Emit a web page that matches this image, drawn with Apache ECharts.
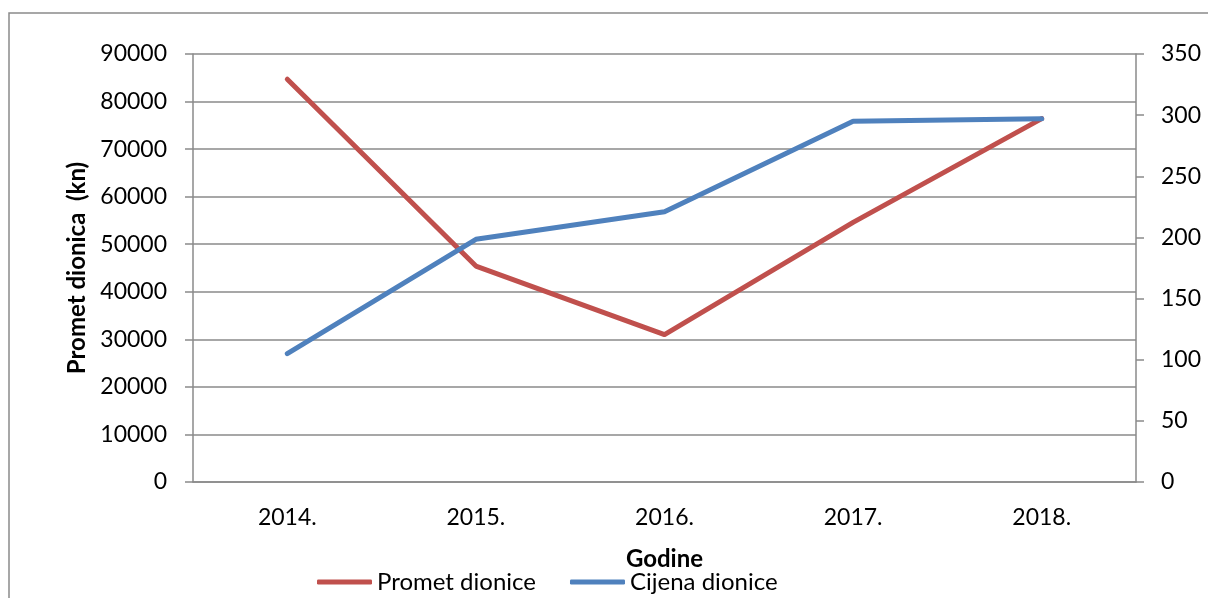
<!DOCTYPE html>
<html>
<head>
<meta charset="utf-8">
<script src="https://cdn.jsdelivr.net/npm/echarts@6/dist/echarts.min.js"></script>
<style>
html,body{margin:0;padding:0;background:#fff;}
#c{width:1208px;height:598px;}
</style>
</head>
<body>
<div id="c"></div>
<script>
const categories = ['2014.', '2015.', '2016.', '2017.', '2018.'];
const prometDionice = [84700, 45400, 31000, 54600, 76400];
const cijenaDionice = [105, 198.5, 221, 295, 297];
const seriesNames = ['Promet dionice', 'Cijena dionice'];
const leftAxisName = 'Promet dionica  (kn)';
const xAxisName = 'Godine';

const FONT = 'Lato';
const gridColor = '#8a8a8a';
const chart = echarts.init(document.getElementById('c'), null, {renderer: 'canvas'});
chart.setOption({
  backgroundColor: '#fff',
  animation: false,
  graphic: [{
    type: 'rect', silent: true,
    shape: {x: 9, y: 13, width: 1230, height: 640},
    style: {fill: 'none', stroke: '#8a8a8a', lineWidth: 1.5}
  }],
  grid: {left: 193, right: 72, top: 54, bottom: 116, containLabel: false},
  legend: {
    data: seriesNames,
    left: 312, top: 565,
    icon: 'roundRect',
    itemWidth: 55, itemHeight: 5, itemGap: 34,
    textStyle: {fontFamily: FONT, fontSize: 24, color: '#000'}
  },
  xAxis: {
    type: 'category', data: categories, boundaryGap: true,
    name: xAxisName, nameLocation: 'middle', nameGap: 65,
    nameTextStyle: {fontFamily: FONT, fontSize: 24, fontWeight: 'bold', color: '#000'},
    axisLine: {show: true, lineStyle: {color: gridColor, width: 1.5}},
    axisTick: {show: false},
    axisLabel: {fontFamily: FONT, fontSize: 23, color: '#000', margin: 24}
  },
  yAxis: [{
    type: 'value', min: 0, max: 90000, interval: 10000, position: 'left',
    name: leftAxisName, nameLocation: 'middle', nameGap: 104,
    nameTextStyle: {fontFamily: FONT, fontSize: 24, fontWeight: 'bold', color: '#000'},
    axisLine: {show: true, lineStyle: {color: gridColor, width: 1.5}},
    axisTick: {show: true, length: 8, lineStyle: {color: gridColor, width: 1.5}},
    axisLabel: {fontFamily: FONT, fontSize: 23, color: '#000', margin: 26,
      formatter: v => String(v)},
    splitLine: {show: true, lineStyle: {color: gridColor, width: 1.5}}
  }, {
    type: 'value', min: 0, max: 350, interval: 50, position: 'right',
    axisLine: {show: true, lineStyle: {color: gridColor, width: 1.5}},
    axisTick: {show: true, length: 8, lineStyle: {color: gridColor, width: 1.5}},
    axisLabel: {fontFamily: FONT, fontSize: 23, color: '#000', margin: 25, align: 'left',
      formatter: v => String(v)},
    splitLine: {show: false}
  }],
  series: [{
    name: seriesNames[0], type: 'line', yAxisIndex: 0, data: prometDionice,
    showSymbol: false, symbol: 'none',
    lineStyle: {color: '#C0504D', width: 5, cap: 'round', join: 'round'},
    itemStyle: {color: '#C0504D'}
  }, {
    name: seriesNames[1], type: 'line', yAxisIndex: 1, data: cijenaDionice,
    showSymbol: false, symbol: 'none',
    lineStyle: {color: '#4F81BD', width: 5, cap: 'round', join: 'round'},
    itemStyle: {color: '#4F81BD'}
  }]
});
</script>
</body>
</html>
